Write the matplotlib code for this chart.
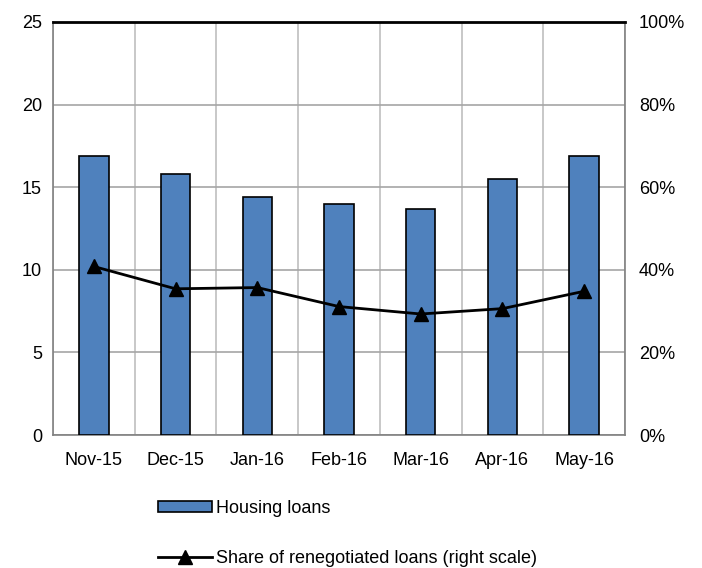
import numpy as np
import matplotlib.pyplot as plt
from matplotlib.ticker import FuncFormatter

plt.rcParams['font.family'] = ['Liberation Sans', 'DejaVu Sans']

months = ['Nov-15', 'Dec-15', 'Jan-16', 'Feb-16', 'Mar-16', 'Apr-16', 'May-16']
housing = [16.9, 15.8, 14.4, 14.0, 13.7, 15.5, 16.9]
share = [40.8, 35.4, 35.7, 31.1, 29.3, 30.6, 34.8]

fig = plt.figure(figsize=(7.02, 5.68), dpi=100)
ax = fig.add_axes([53 / 702, 1 - 435 / 568, 572 / 702, 413 / 568])
x = np.arange(len(months))

ax.bar(x, housing, width=0.36, color='#4f81bd', edgecolor='black', linewidth=1.2,
       zorder=3, label='Housing loans')
ax.set_xlim(-0.5, len(months) - 0.5)
ax.set_ylim(0, 25)
ax.set_yticks(range(0, 26, 5))
ax.set_xticks(x)
ax.set_xticklabels(months)
ax.set_xticks(np.arange(-0.5, len(months), 1), minor=True)
ax.grid(axis='y', color='#a6a6a6', linewidth=1.2, zorder=0)
ax.grid(axis='x', which='minor', color='#bfbfbf', linewidth=1.2, zorder=0)
ax.tick_params(which='both', length=0, labelsize=13)
ax.tick_params(axis='x', pad=12)
ax.tick_params(axis='y', pad=8)
for s in ['left', 'right']:
    ax.spines[s].set_color('#808080')
    ax.spines[s].set_linewidth(1.2)
ax.spines['top'].set_color('black')
ax.spines['top'].set_linewidth(2)
ax.spines['bottom'].set_color('#808080')
ax.spines['bottom'].set_linewidth(1.2)

ax2 = ax.twinx()
ax2.plot(x, share, color='black', linewidth=2, marker='^', markersize=10,
         zorder=4, label='Share of renegotiated loans (right scale)')
ax2.set_ylim(0, 100)
ax2.set_yticks(range(0, 101, 20))
ax2.yaxis.set_major_formatter(FuncFormatter(lambda v, p: '%d%%' % v))
ax2.tick_params(length=0, labelsize=13, pad=10)
for s in ax2.spines.values():
    s.set_visible(False)

h1, l1 = ax.get_legend_handles_labels()
h2, l2 = ax2.get_legend_handles_labels()
fig.legend(h1 + h2, l1 + l2, loc='upper left', bbox_to_anchor=(149 / 702, 1 - 491 / 568),
           frameon=False, fontsize=13, ncol=1, labelspacing=1.8, handlelength=3.0,
           handleheight=0.5, handletextpad=0.2, borderpad=0)

fig.savefig('out.png', dpi=100)
